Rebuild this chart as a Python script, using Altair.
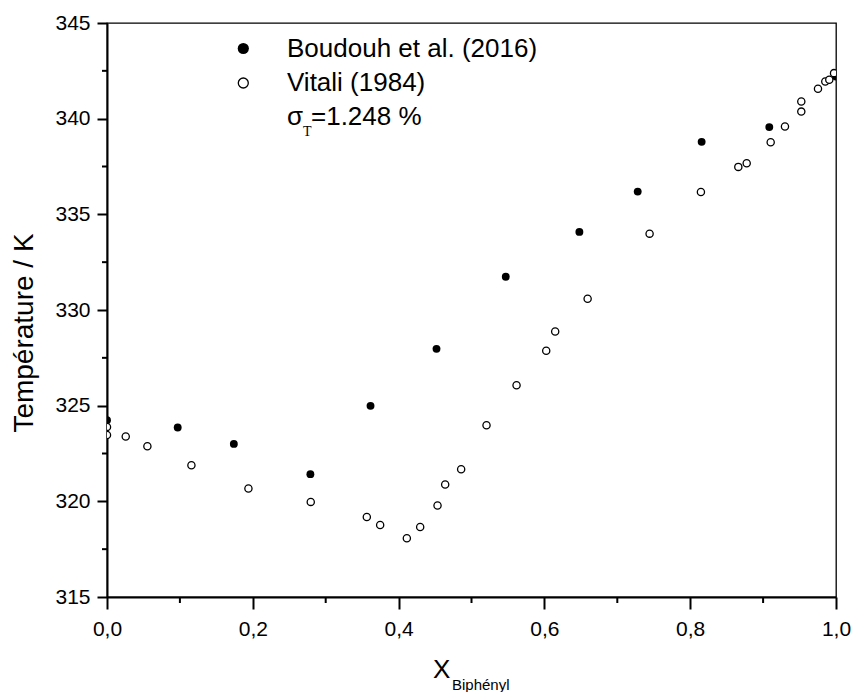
import altair as alt
import pandas as pd

# ---- data ----
boudouh_x = [0.0, 0.097, 0.174, 0.279, 0.3615, 0.452, 0.547, 0.648, 0.728, 0.8157, 0.9085, 1.0]
boudouh_t = [324.24, 323.86, 323.0, 321.42, 324.99, 327.97, 331.74, 334.08, 336.19, 338.79, 339.56, 342.2]

vitali_x = [0.0, 0.0, 0.0257, 0.0554, 0.1158, 0.194, 0.2795, 0.3564, 0.3747, 0.4113, 0.4296,
            0.4534, 0.4639, 0.4858, 0.5206, 0.5618, 0.6025, 0.6148, 0.6593, 0.7443, 0.8147,
            0.866, 0.8775, 0.9104, 0.930, 0.9524, 0.9524, 0.9753, 0.9853, 0.9908, 0.9973]
vitali_t = [323.89, 323.47, 323.39, 322.88, 321.89, 320.67, 319.97, 319.18, 318.76, 318.07, 318.66,
            319.78, 320.88, 321.68, 323.98, 326.07, 327.87, 328.88, 330.59, 333.99, 336.17,
            337.48, 337.67, 338.77, 339.59, 340.37, 340.90, 341.56, 341.94, 342.03, 342.38]

x_major = [0.0, 0.2, 0.4, 0.6, 0.8, 1.0]
x_minor = [0.1, 0.3, 0.5, 0.7, 0.9]
y_major = [315, 320, 325, 330, 335, 340, 345]
y_minor = [317.5, 322.5, 327.5, 332.5, 337.5, 342.5]

legend_labels = ["Boudouh et al. (2016)", "Vitali (1984)"]
sigma_parts = ["σ", "T", "=1.248 %"]
y_title = "Température / K"
x_title_parts = ["X", "Biphényl"]

W, H = 729, 574
FONT = "Liberation Sans"

df_b = pd.DataFrame({"x": boudouh_x, "T": boudouh_t})
df_v = pd.DataFrame({"x": vitali_x, "T": vitali_t})
one = pd.DataFrame({"a": [0]})

xscale = alt.Scale(domain=[0, 1], nice=False, zero=False)
yscale = alt.Scale(domain=[315, 345], nice=False, zero=False)

xaxis = alt.Axis(values=x_major, labelExpr="replace(format(datum.value, '.1f'), '.', ',')",
                 title=None, grid=False, tickSize=12, tickWidth=2, domainWidth=2,
                 domainColor="black", tickColor="black", labelColor="black",
                 labelFont=FONT, labelFontSize=21, labelPadding=9, labelFlush=False,
                 labelOverlap=False)
yaxis = alt.Axis(values=y_major, format="d", title=None, grid=False, tickSize=10, tickWidth=2,
                 domainWidth=2, domainColor="black", tickColor="black", labelColor="black",
                 labelFont=FONT, labelFontSize=21, labelPadding=7, labelFlush=False,
                 labelOverlap=False)

xminor = alt.Chart(pd.DataFrame({"x": x_minor})).mark_rule(color="black", strokeWidth=2).encode(
    x=alt.X("x:Q", scale=xscale, axis=xaxis), y=alt.value(H), y2=alt.value(H + 6))
yminor = alt.Chart(pd.DataFrame({"T": y_minor})).mark_rule(color="black", strokeWidth=2).encode(
    y=alt.Y("T:Q", scale=yscale, axis=yaxis), x=alt.value(0), x2=alt.value(-5))

filled = alt.Chart(df_b).mark_circle(color="black", size=62, opacity=1, clip=True).encode(
    x=alt.X("x:Q", scale=xscale, axis=xaxis), y=alt.Y("T:Q", scale=yscale, axis=yaxis))
opened = alt.Chart(df_v).mark_circle(fill="white", stroke="black", strokeWidth=1.3, size=52,
                                     opacity=1, fillOpacity=1, clip=True).encode(
    x=alt.X("x:Q", scale=xscale, axis=xaxis), y=alt.Y("T:Q", scale=yscale, axis=yaxis))

leg_f = alt.Chart(one).mark_circle(color="black", size=125, opacity=1).encode(
    x=alt.value(136.3), y=alt.value(25.5))
leg_o = alt.Chart(one).mark_circle(fill="white", stroke="black", strokeWidth=1.3, size=100,
                                   opacity=1, fillOpacity=1).encode(
    x=alt.value(136.3), y=alt.value(60))


def txt(s, x, y, size, font=FONT, angle=0, align="left"):
    kw = dict(text=s, font=font, fontSize=size, color="black", align=align, baseline="alphabetic")
    if angle:
        kw["angle"] = angle
    return alt.Chart(one).mark_text(**kw).encode(x=alt.value(x), y=alt.value(y))


texts = [
    txt(legend_labels[0], 180, 34, 26),
    txt(legend_labels[1], 180, 68, 26),
    txt(sigma_parts[0], 180, 102, 26),
    txt(sigma_parts[1], 196, 113, 14, font="Liberation Serif"),
    txt(sigma_parts[2], 204, 102, 26),
    txt(y_title, -74, 310, 28, angle=270, align="center"),
    txt(x_title_parts[0], 326, 655, 26),
    txt(x_title_parts[1], 345, 667, 15),
]

chart = alt.layer(xminor, yminor, filled, opened, leg_f, leg_o, *texts).properties(
    width=W, height=H,
    padding={"left": 107, "top": 23, "right": 17, "bottom": 95},
    autosize=alt.AutoSizeParams(type="none"),
    background="white",
).configure_view(stroke="black", strokeWidth=1.3)

chart.save("out.html", embed_options={"renderer": "svg", "actions": False})
